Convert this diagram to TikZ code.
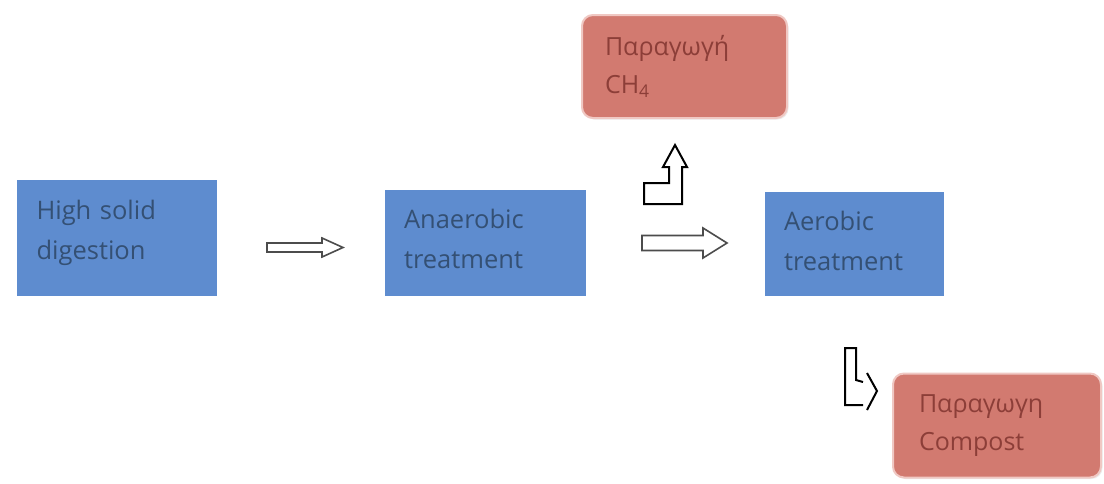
\documentclass[tikz,border=0pt]{standalone}
\usepackage{fontspec}
\setmainfont{Open Sans}
\usetikzlibrary{shadows}
\definecolor{boxblue}{RGB}{94,140,207}
\definecolor{bluetext}{RGB}{52,80,116}
\definecolor{boxpink}{RGB}{210,122,112}
\definecolor{pinkedge}{RGB}{240,200,195}
\definecolor{pinktext}{RGB}{140,62,56}
\newcommand{\lift}[1]{\rule[-#1pt]{0pt}{0pt}}
\begin{document}
\begin{tikzpicture}[x=1pt,y=-1pt,
  bluebox/.style={rectangle, fill=boxblue, draw=white, line width=3pt,
    drop shadow={opacity=0.22, shadow xshift=2pt, shadow yshift=-2pt},
    text=bluetext, align=left, inner sep=0pt,
    font=\fontsize{25.5}{40}\selectfont},
  pinkbox/.style={rectangle, rounded corners=11pt, fill=boxpink, draw=pinkedge, line width=2pt,
    drop shadow={opacity=0.15, shadow xshift=1.5pt, shadow yshift=-1.5pt},
    text=pinktext, align=left, inner sep=0pt,
    font=\fontsize{25}{38}\selectfont},
  blockarrow/.style={draw=black!70, line width=1.6pt, fill=white, line join=miter},
  bentarrow/.style={draw=black, line width=2pt, fill=none, line join=miter}]
\useasboundingbox (0,0) rectangle (1104,483);
\fill[white] (0,0) rectangle (1104,483);

\node[bluebox, minimum width=203pt, minimum height=119pt, text width=160pt] (hsd) at (116.5,237.5) {High solid\\digestion\lift{16}};
\node[bluebox, minimum width=204pt, minimum height=109pt, text width=162pt] (ana) at (485,242.5) {Anaerobic\\treatment\lift{8}};
\node[bluebox, minimum width=182pt, minimum height=107pt, text width=140pt] (aer) at (854,243.5) {Aerobic\\treatment\lift{5}};
\node[pinkbox, minimum width=205pt, minimum height=103pt, text width=159pt] (ch4) at (684.5,66.5) {Παραγωγή\\CH\textsubscript{4}};
\node[pinkbox, minimum width=208pt, minimum height=104pt, text width=156pt] (comp) at (997,425.5) {Παραγωγη\\Compost};

% horizontal block arrows
\draw[blockarrow] (267,243) -- (322,243) -- (322,238) -- (343,247.5) -- (322,257) -- (322,252) -- (267,252) -- cycle;
\draw[blockarrow] (642,235.5) -- (703,235.5) -- (703,228) -- (727,243) -- (703,258) -- (703,250.5) -- (642,250.5) -- cycle;

% bent up arrow towards CH4
\draw[bentarrow] (644,204) -- (682,204) -- (682,167) -- (687,167) -- (675,145) -- (663,167) -- (669,167) -- (669,183) -- (644,183) -- cycle;

% bent arrow towards compost
\draw[bentarrow] (863,382) -- (856,380) -- (856,348) -- (845,348) -- (845,405) -- (863,405);
\draw[bentarrow] (867,373) -- (877,391) -- (867,410);
\end{tikzpicture}
\end{document}
